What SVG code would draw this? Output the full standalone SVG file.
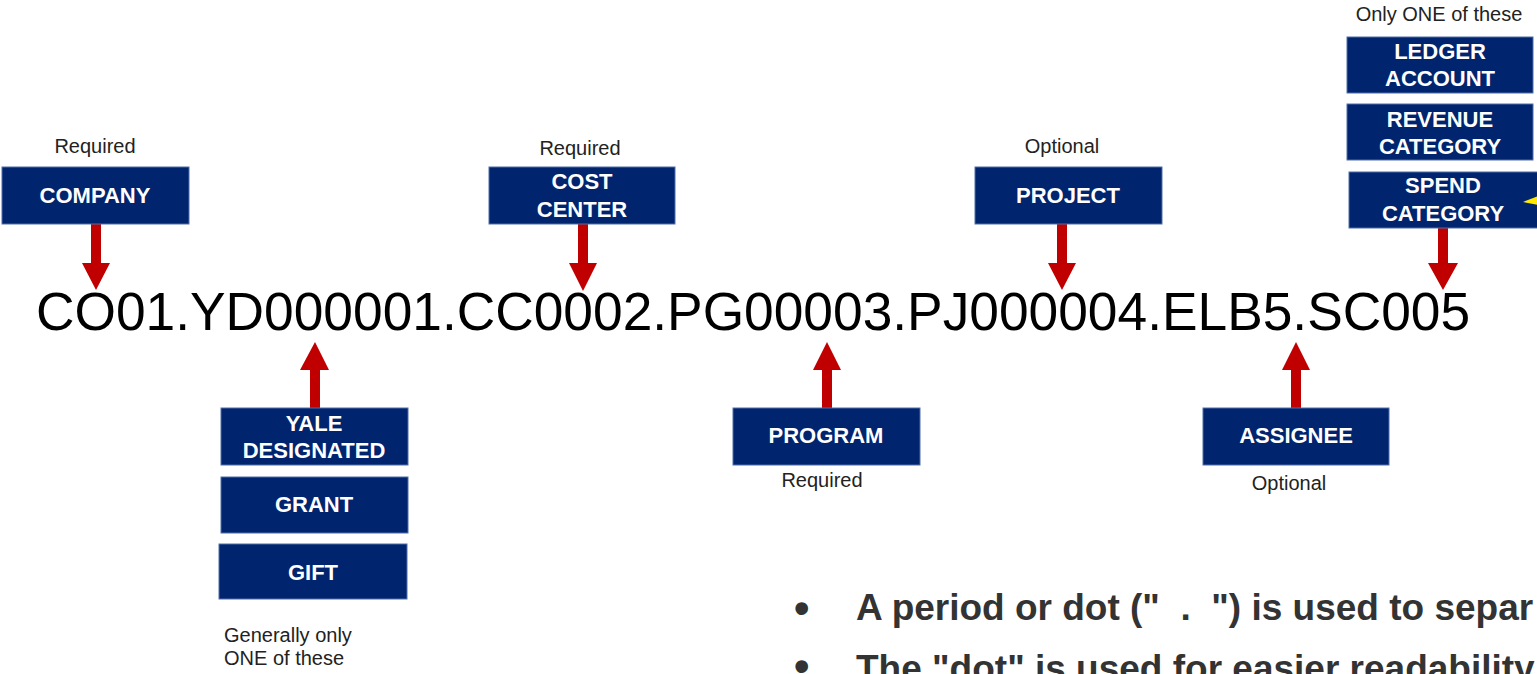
<svg xmlns="http://www.w3.org/2000/svg" width="1537" height="674" viewBox="0 0 1537 674">
<defs>
<style>
.box{fill:#00246E;stroke:#4E6FA8;stroke-width:1}
.bt{font-family:"Liberation Sans",Arial,sans-serif;font-weight:bold;font-size:22px;fill:#FFFFFF;text-anchor:middle}
.cap{font-family:"Liberation Sans",Arial,sans-serif;font-size:20px;fill:#222222}
.mid{text-anchor:middle}
.arr{fill:#C00000}
.code{font-family:"Liberation Sans",Arial,sans-serif;font-size:53.3px;fill:#000000}
.bul{font-family:"Liberation Sans",Arial,sans-serif;font-weight:bold;font-size:37px;fill:#333333;white-space:pre}
.dot{font-family:"Liberation Sans",Arial,sans-serif;font-weight:bold;font-size:44px;fill:#333333}
</style>
</defs>
<rect width="1537" height="674" fill="#FFFFFF"/>

<text class="code" x="36" y="330">CO01.YD000001.CC0002.PG00003.PJ000004.ELB5.SC005</text>

<g id="connectors">
<polygon class="arr" points="91,224 101,224 101,263 110,263 96,290 82,263 91,263"/>
<polygon class="arr" points="578,224 588,224 588,263 597,263 583,291 569,263 578,263"/>
<polygon class="arr" points="1057,224 1067,224 1067,263 1076,263 1062,290 1048,263 1057,263"/>
<polygon class="arr" points="1438,228 1448,228 1448,263 1458,263 1443,290 1428,263 1438,263"/>
<polygon class="arr" points="310,409 320,409 320,370 329,370 315,342 300,370 310,370"/>
<polygon class="arr" points="822,409 832,409 832,370 841,370 827,342 813,370 822,370"/>
<polygon class="arr" points="1291,409 1301,409 1301,370 1310,370 1296,342 1282,370 1291,370"/>
</g>

<g id="company">
<text class="cap mid" x="95" y="153">Required</text>
<rect class="box" x="2" y="167" width="187" height="57"/>
<text class="bt" x="95" y="203">COMPANY</text>
</g>

<g id="cost-center">
<text class="cap mid" x="580" y="155">Required</text>
<rect class="box" x="489" y="167" width="186" height="57"/>
<text class="bt" x="582" y="189">COST</text>
<text class="bt" x="582" y="217">CENTER</text>
</g>

<g id="project">
<text class="cap mid" x="1062" y="153">Optional</text>
<rect class="box" x="975" y="167" width="187" height="57"/>
<text class="bt" x="1068" y="203">PROJECT</text>
</g>

<g id="ledger-account">
<text class="cap mid" x="1439" y="21">Only ONE of these</text>
<rect class="box" x="1347" y="37" width="186" height="56"/>
<text class="bt" x="1440" y="59">LEDGER</text>
<text class="bt" x="1440" y="86">ACCOUNT</text>
</g>

<g id="revenue-category">
<rect class="box" x="1347" y="104" width="186" height="56"/>
<text class="bt" x="1440" y="127">REVENUE</text>
<text class="bt" x="1440" y="154">CATEGORY</text>
</g>

<g id="spend-category">
<rect class="box" x="1349" y="172" width="190" height="56"/>
<text class="bt" x="1443" y="193">SPEND</text>
<text class="bt" x="1443" y="221">CATEGORY</text>
<polygon points="1523,202 1538,196 1538,205" fill="#FFE800"/>
</g>

<g id="yale-designated">
<rect class="box" x="221" y="408" width="187" height="57"/>
<text class="bt" x="314" y="431">YALE</text>
<text class="bt" x="314" y="458">DESIGNATED</text>
</g>

<g id="grant">
<rect class="box" x="221" y="477" width="187" height="56"/>
<text class="bt" x="314" y="512">GRANT</text>
</g>

<g id="gift">
<rect class="box" x="219" y="544" width="188" height="55"/>
<text class="bt" x="313" y="580">GIFT</text>
<text class="cap" x="224" y="642">Generally only</text>
<text class="cap" x="224" y="665">ONE of these</text>
</g>

<g id="program">
<rect class="box" x="733" y="408" width="187" height="57"/>
<text class="bt" x="826" y="443">PROGRAM</text>
<text class="cap mid" x="822" y="487">Required</text>
</g>

<g id="assignee">
<rect class="box" x="1203" y="408" width="186" height="57"/>
<text class="bt" x="1296" y="443">ASSIGNEE</text>
<text class="cap mid" x="1289" y="490">Optional</text>
</g>

<g id="bullets">
<text class="dot" x="794" y="623">•</text>
<text class="bul" x="856" y="620" xml:space="preserve">A period or dot ("  .  ") is used to separ</text>
<text class="dot" x="794" y="681">•</text>
<text class="bul" x="856" y="681">The "dot" is used for easier readability</text>
</g>
</svg>
